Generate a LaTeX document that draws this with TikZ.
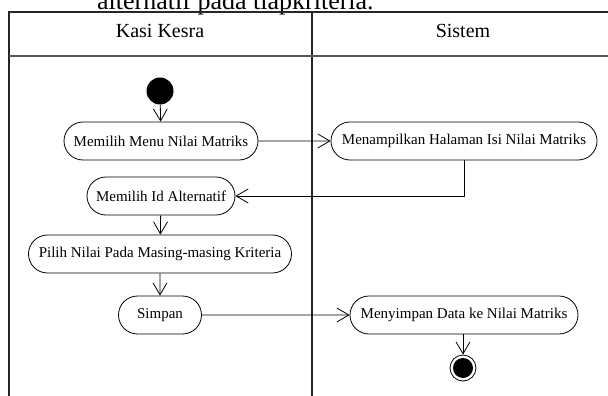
\documentclass[tikz,border=0pt]{standalone}
\usepackage{fontspec}
\setmainfont{Liberation Serif}
\usetikzlibrary{shapes.misc,arrows.meta}

\tikzset{
  action/.style={draw, line width=0.8pt, rounded rectangle, minimum height=38pt,
    inner sep=0pt, font=\fontsize{15}{17}\selectfont},
  flow/.style={draw, line width=0.8pt, -{Straight Barb[length=12pt,width=14pt,line width=0.8pt]}},
  lane/.style={line width=1.1pt, draw=black!85},
  lanehead/.style={font=\fontsize{20}{22}\selectfont, anchor=base}
}

\begin{document}
\begin{tikzpicture}[x=1pt,y=-1pt]
\useasboundingbox (0,0) rectangle (608,396);

% caption line above the swimlanes (partly cut by the page edge)
\node[anchor=base west, inner sep=0pt, font=\fontsize{26}{28}\selectfont] (cap) at (97,9.5) {alternatif pada tiapkriteria.};

% swimlane frame
\coordinate (tl) at (9,12);
\coordinate (tr) at (608,12);
\coordinate (hl) at (9,56);
\coordinate (hr) at (608,56);
\coordinate (bl) at (9,396);
\coordinate (dt) at (312,12);
\coordinate (db) at (312,396);
\draw[lane] (tr) -- (tl) -- (bl);
\draw[lane] (dt) -- (db);
\draw[line width=1.8pt, draw=black!65] (hl) -- (hr);

\node[lanehead] (h1) at (160,38) {Kasi Kesra};
\node[lanehead] (h2) at (463,38) {Sistem};

% start and end
\node[circle, fill=black, minimum size=27pt, inner sep=0pt] (start) at (160,91) {};
\node[circle, draw, line width=0.8pt, minimum size=26pt, inner sep=0pt] (stop) at (463,368) {};
\node[circle, fill=black, minimum size=20pt, inner sep=0pt] (stopin) at (463,368) {};

% actions
\node[action, minimum width=194pt] (m1) at (161,141) {Memilih Menu Nilai Matriks};
\node[action, minimum width=266pt] (m2) at (464,141) {Menampilkan Halaman Isi Nilai Matriks};
\node[action, minimum width=148pt] (m3) at (161,196) {Memilih Id Alternatif};
\node[action, minimum width=263pt] (m4) at (160,254) {Pilih Nilai Pada Masing-masing Kriteria};
\node[action, minimum width=83pt] (m5) at (160,315) {Simpan};
\node[action, minimum width=228pt] (m6) at (464,315) {Menyimpan Data ke Nilai Matriks};

% flow
\draw[flow] (start) -- (m1);
\draw[flow] (m1) -- (m2);
\draw[flow] (m2.south) |- (m3.east);
\draw[flow] (m3) -- (m4);
\draw[flow] (m4) -- (m5);
\draw[flow] (m5) -- (m6);
\draw[flow] (m6.south -| stop) -- (stop);
\end{tikzpicture}
\end{document}
